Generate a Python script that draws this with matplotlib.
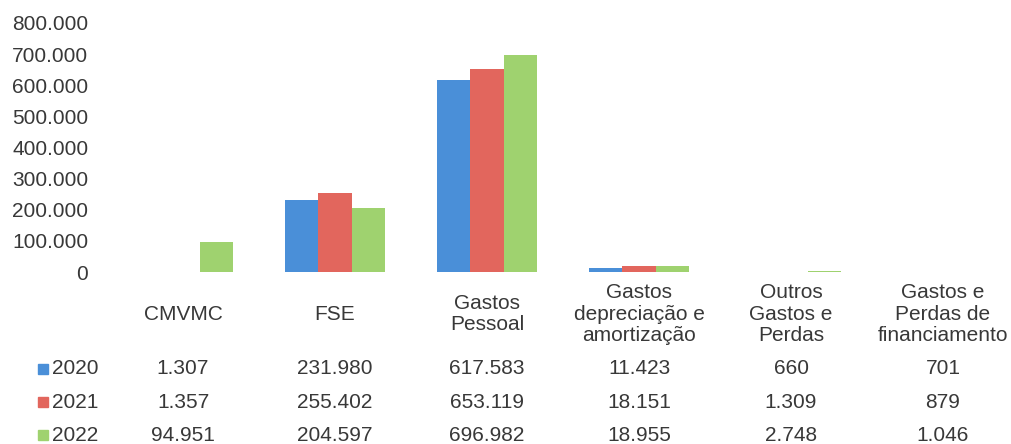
import matplotlib
matplotlib.use("Agg")
import matplotlib.pyplot as plt
from matplotlib.patches import Rectangle
from matplotlib.transforms import blended_transform_factory

plt.rcParams['font.family'] = ['Liberation Sans', 'DejaVu Sans']

categories = ["CMVMC", "FSE", "Gastos\nPessoal", "Gastos\ndepreciação e\namortização",
              "Outros\nGastos e\nPerdas", "Gastos e\nPerdas de\nfinanciamento"]
years = ["2020", "2021", "2022"]
v2020 = [1307, 231980, 617583, 11423, 660, 701]
v2021 = [1357, 255402, 653119, 18151, 1309, 879]
v2022 = [94951, 204597, 696982, 18955, 2748, 1046]
series = [v2020, v2021, v2022]
colors = ["#4a8fd8", "#e2665d", "#9fd26f"]
yticks = [0, 100000, 200000, 300000, 400000, 500000, 600000, 700000, 800000]

def fmt(v):
    return f"{v:,}".replace(",", ".")

W, H = 1011, 444
FS = 15
txtc = "#383838"
fig = plt.figure(figsize=(W / 100, H / 100), dpi=100)
ax = fig.add_axes([107 / W, (H - 272) / H, 904 / W, 249 / H])

bw = 0.22
x = list(range(len(categories)))
for i, (vals, c) in enumerate(zip(series, colors)):
    ax.bar([xi + (i - 1) * bw for xi in x], vals, width=bw, color=c, linewidth=0)

ax.set_xlim(-0.5, 5.447)
ax.set_ylim(0, 800000)
ax.set_yticks(yticks)
ax.set_yticklabels([fmt(t) for t in yticks], fontsize=FS, color=txtc)
ax.tick_params(axis='y', length=0, pad=13.5)
ax.set_xticks([])
for s in ax.spines.values():
    s.set_visible(False)

tr = blended_transform_factory(ax.transData, fig.transFigure)
for xi, cat in zip(x, categories):
    ax.text(xi, 1 - 314 / H, cat, transform=tr, ha='center', va='center',
            fontsize=FS, color=txtc, linespacing=1.15)

rows_y = [369, 402, 435]
for ri, (yr, vals, c) in enumerate(zip(years, series, colors)):
    yy = 1 - rows_y[ri] / H
    fig.text(52 / W, yy, yr, ha='left', va='center', fontsize=FS, color=txtc)
    fig.patches.append(Rectangle((38 / W, yy - 5 / H), 10 / W, 10 / H,
                                 transform=fig.transFigure, color=c, figure=fig))
    for xi, v in zip(x, vals):
        ax.text(xi, yy, fmt(v), transform=tr, ha='center', va='center',
                fontsize=FS, color=txtc)

fig.savefig("out.png", dpi=100)
